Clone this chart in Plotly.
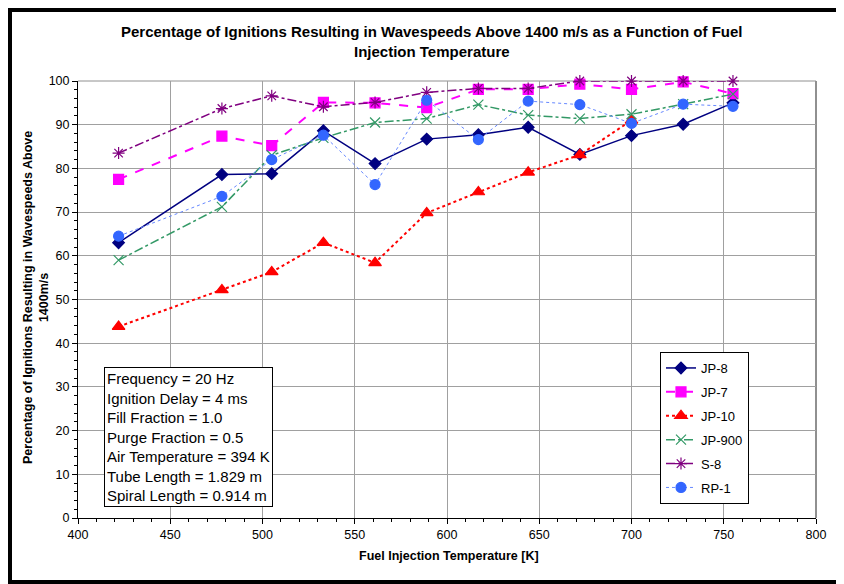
import plotly.graph_objects as go

# fuel injection temperatures (K)
temps = [422, 478, 505, 533, 561, 589, 617, 644, 672, 700, 728, 755]

jp8 = [63.0, 78.6, 78.8, 88.6, 81.1, 86.7, 87.7, 89.4, 83.2, 87.5, 90.1, 95.0]
jp7 = [77.5, 87.4, 85.2, 95.1, 95.0, 93.9, 98.1, 98.1, 99.3, 98.1, 99.8, 97.1]
jp10 = [43.8, 52.2, 56.3, 63.0, 58.4, 69.8, 74.6, 79.1, 83.1, 91.0]
jp900 = [59.0, 71.2, 83.0, 87.0, 90.5, 91.4, 94.6, 92.2, 91.4, 92.4, 94.7, 97.0]
s8 = [83.5, 93.7, 96.6, 94.1, 95.1, 97.4, 98.3, 98.3, 100.0, 100.0, 100.0, 100.0]
rp1 = [64.5, 73.6, 82.0, 87.6, 76.3, 95.6, 86.6, 95.4, 94.6, 90.3, 94.7, 94.2]

params = [
    "Frequency = 20 Hz",
    "Ignition Delay = 4 ms",
    "Fill Fraction = 1.0",
    "Purge Fraction = 0.5",
    "Air Temperature = 394 K",
    "Tube Length = 1.829 m",
    "Spiral Length = 0.914 m",
]

# page has an 8px body margin, so the figure starts at (8, 8) on screen
OFF = 8
W, H = 844 - OFF, 584 - OFF
L, R, T, B = 78 - OFF, 28, 81 - OFF, 66
PW, PH = W - L - R, H - T - B
FONT = "Liberation Sans, Arial, sans-serif"


def px(x):
    # screen x -> paper x
    return (x - OFF - L) / PW


def py(y):
    # screen y -> paper y
    return (H - B - (y - OFF)) / PH


series = [
    ("JP-8", jp8, "#000080", "solid", 1.5, "diamond", 9, "#000080"),
    ("JP-7", jp7, "#FF00FF", "dash", 2, "square", 10, "#FF00FF"),
    ("JP-10", jp10, "#FF0000", "dot", 2, "triangle-up", 11, "#FF0000"),
    ("JP-900", jp900, "#339966", "dashdot", 1.5, "x-thin-open", 10, "#339966"),
    ("S-8", s8, "#800080", "dashdot", 1.5, "asterisk-open", 10, "#800080"),
    ("RP-1", rp1, "#6688FF", "dot", 1, "circle", 10, "#3366FF"),
]

fig = go.Figure()
for i, (name, ys, col, dash, lw, sym, ms, mcol) in enumerate(series):
    fig.add_trace(go.Scatter(
        x=temps[:len(ys)], y=ys, name=name, mode="lines+markers",
        line=dict(color=col, dash=dash, width=lw),
        marker=dict(symbol=sym, size=ms, color=mcol,
                    line=dict(color=mcol, width=1.2)),
        legendgroup=f"g{i}", cliponaxis=False,
    ))

fig.update_layout(
    width=W, height=H,
    margin=dict(l=L, r=R, t=T, b=B),
    paper_bgcolor="white", plot_bgcolor="white",
    font=dict(family=FONT, size=12, color="black"),
    showlegend=True,
    legend=dict(
        x=px(660), y=py(352), xanchor="left", yanchor="top",
        bordercolor="black", borderwidth=1, bgcolor="white",
        font=dict(size=13), tracegroupgap=4,
    ),
)

fig.update_xaxes(
    range=[400, 800], dtick=50, showgrid=True, gridcolor="#a0a0a0", gridwidth=1,
    showline=True, linecolor="black", linewidth=1,
    ticks="outside", ticklen=5, tickcolor="black",
    minor=dict(dtick=10, ticks="outside", ticklen=3, tickcolor="black", showgrid=False),
    tickfont=dict(size=12.5), zeroline=False,
)
fig.update_yaxes(
    range=[0, 100], dtick=10, showgrid=True, gridcolor="#a0a0a0", gridwidth=1,
    showline=True, linecolor="black", linewidth=1,
    ticks="outside", ticklen=5, tickcolor="black",
    minor=dict(dtick=2, ticks="outside", ticklen=3, tickcolor="black", showgrid=False),
    tickfont=dict(size=12.5), zeroline=False,
)

# right / top frame of plot area
fig.add_shape(type="line", xref="paper", yref="paper", x0=1, x1=1, y0=0, y1=1,
              line=dict(color="#909090", width=2), layer="below")
fig.add_shape(type="line", xref="paper", yref="paper", x0=0, x1=1, y0=1, y1=1,
              line=dict(color="#909090", width=1), layer="below")

# outer black frame (left, top, bottom)
fig.add_shape(type="line", xref="paper", yref="paper", x0=px(10), x1=px(10),
              y0=py(8), y1=py(584), line=dict(color="black", width=4))
fig.add_shape(type="line", xref="paper", yref="paper", x0=px(8), x1=px(844),
              y0=py(10), y1=py(10), line=dict(color="black", width=4))
fig.add_shape(type="line", xref="paper", yref="paper", x0=px(8), x1=px(844),
              y0=py(582), y1=py(582), line=dict(color="black", width=4))

fig.add_annotation(
    x=px(432), y=py(42), xref="paper", yref="paper", showarrow=False,
    text="<b>Percentage of Ignitions Resulting in Wavespeeds Above 1400 m/s as a Function of Fuel<br>Injection Temperature</b>",
    font=dict(size=15), align="center", xanchor="center", yanchor="middle",
)
fig.add_annotation(
    x=px(36), y=py(298), xref="paper", yref="paper", showarrow=False,
    text="<b>Percentage of Ignitions Resulting in Wavespeeds Above<br>1400m/s</b>",
    font=dict(size=12.5), textangle=-90, align="center",
    xanchor="center", yanchor="middle",
)
fig.add_annotation(
    x=px(449), y=py(556), xref="paper", yref="paper", showarrow=False,
    text="<b>Fuel Injection Temperature [K]</b>",
    font=dict(size=12.5), xanchor="center", yanchor="middle",
)
fig.add_annotation(
    x=px(104), y=py(367), xref="paper", yref="paper", showarrow=False,
    text="<br>".join(params), align="left", xanchor="left", yanchor="top",
    font=dict(size=15), bordercolor="black", borderwidth=1, borderpad=2,
    bgcolor="white",
)

fig.write_html("out.html")
